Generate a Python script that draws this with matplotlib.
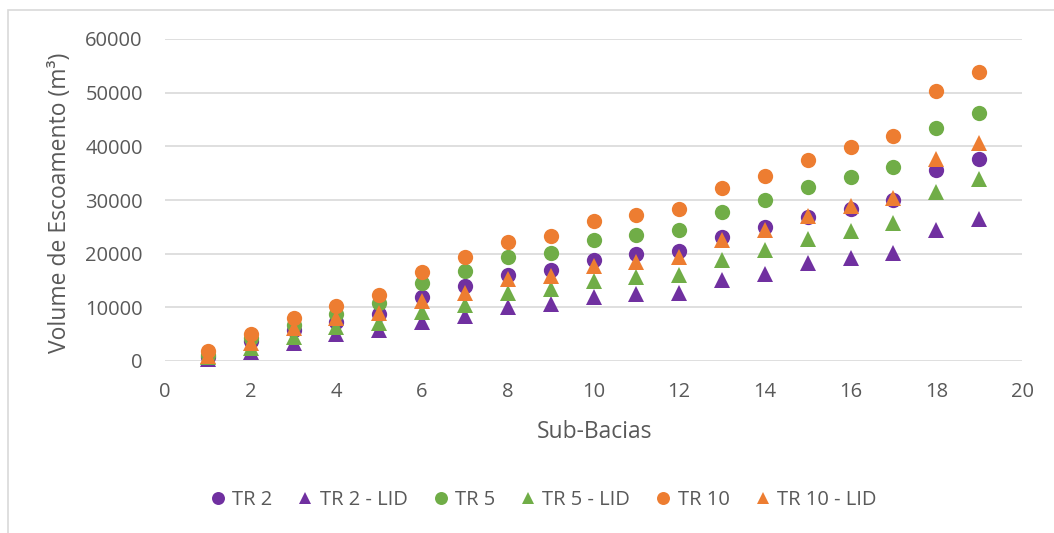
import matplotlib
matplotlib.use("Agg")
import matplotlib.pyplot as plt
from matplotlib.patches import Rectangle

sub_bacias = list(range(1, 20))
tr2 = [700, 3700, 5800, 7300, 8800, 12000, 14000, 16000, 16900, 18900, 19900, 20500, 23100, 25000, 26900, 28400, 30000, 35500, 37600]
tr2_lid = [300, 1700, 3400, 5000, 5700, 7300, 8300, 10100, 10600, 12000, 12500, 12700, 15100, 16300, 18200, 19100, 20100, 24400, 26400]
tr5 = [1200, 4300, 6700, 8800, 10800, 14500, 16800, 19300, 20200, 22600, 23500, 24500, 27800, 30000, 32500, 34300, 36200, 43400, 46300]
tr5_lid = [700, 2400, 4500, 6400, 7100, 9200, 10400, 12600, 13400, 14900, 15600, 16000, 18900, 20700, 22700, 24200, 25700, 31400, 33900]
tr10 = [1900, 5100, 8100, 10200, 12300, 16600, 19300, 22100, 23300, 26000, 27200, 28300, 32200, 34500, 37500, 39800, 42000, 50300, 53900]
tr10_lid = [900, 3300, 6100, 8000, 9000, 11200, 12700, 15200, 15800, 17700, 18500, 19300, 22600, 24500, 27000, 28900, 30300, 37600, 40700]

series = [
    ("TR 2", tr2, "o", "#7030A0"),
    ("TR 2 - LID", tr2_lid, "^", "#7030A0"),
    ("TR 5", tr5, "o", "#70AD47"),
    ("TR 5 - LID", tr5_lid, "^", "#70AD47"),
    ("TR 10", tr10, "o", "#ED7D31"),
    ("TR 10 - LID", tr10_lid, "^", "#ED7D31"),
]

plt.rcParams['font.family'] = ['Open Sans', 'DejaVu Sans']
txt = "#595959"

fig = plt.figure(figsize=(10.54, 5.33), dpi=100)
fig.patch.set_facecolor("white")
fig.patches.append(Rectangle((8 / 1054, -0.05), 1.2, 1 - 10 / 533 + 0.05,
                             transform=fig.transFigure, fill=False,
                             edgecolor="#D9D9D9", linewidth=1.2))

ax = fig.add_axes([165 / 1054, 1 - 361 / 533, (1022 - 165) / 1054, (361 - 39) / 533])
for label, vals, m, c in series:
    ax.plot(sub_bacias, vals, linestyle="none", marker=m, markersize=11,
            color=c, markeredgewidth=0, label=label, clip_on=False)

ax.set_xlim(0, 20)
ax.set_ylim(0, 60000)
ax.set_xticks(range(0, 21, 2))
ax.set_yticks(range(0, 60001, 10000))
ax.grid(axis="y", color="#D9D9D9", linewidth=1.2)
ax.set_axisbelow(True)
for s in ax.spines.values():
    s.set_visible(False)
ax.tick_params(length=0, labelsize=14.5, colors=txt)
ax.tick_params(axis="x", pad=15)
ax.tick_params(axis="y", pad=16)

ax.set_xlabel("Sub-Bacias", fontsize=16.5, color=txt, va="center")
ax.xaxis.set_label_coords((595 - 165) / 857, -(432 - 361) / 322)
ax.set_ylabel("Volume de Escoamento (m³)", fontsize=16.5, color=txt, va="center")
ax.yaxis.set_label_coords((60 - 165) / 857, 1 - (202.5 - 39) / 322)

handles, labels = ax.get_legend_handles_labels()
leg = fig.legend(handles, labels, loc="center", bbox_to_anchor=(543 / 1054, 1 - 500 / 533),
                 ncol=6, frameon=False, fontsize=14.5, markerscale=0.85,
                 handlelength=0.8, handletextpad=0.3, columnspacing=1.25)
for t in leg.get_texts():
    t.set_color(txt)

fig.savefig("out.png", dpi=100, facecolor="white")
